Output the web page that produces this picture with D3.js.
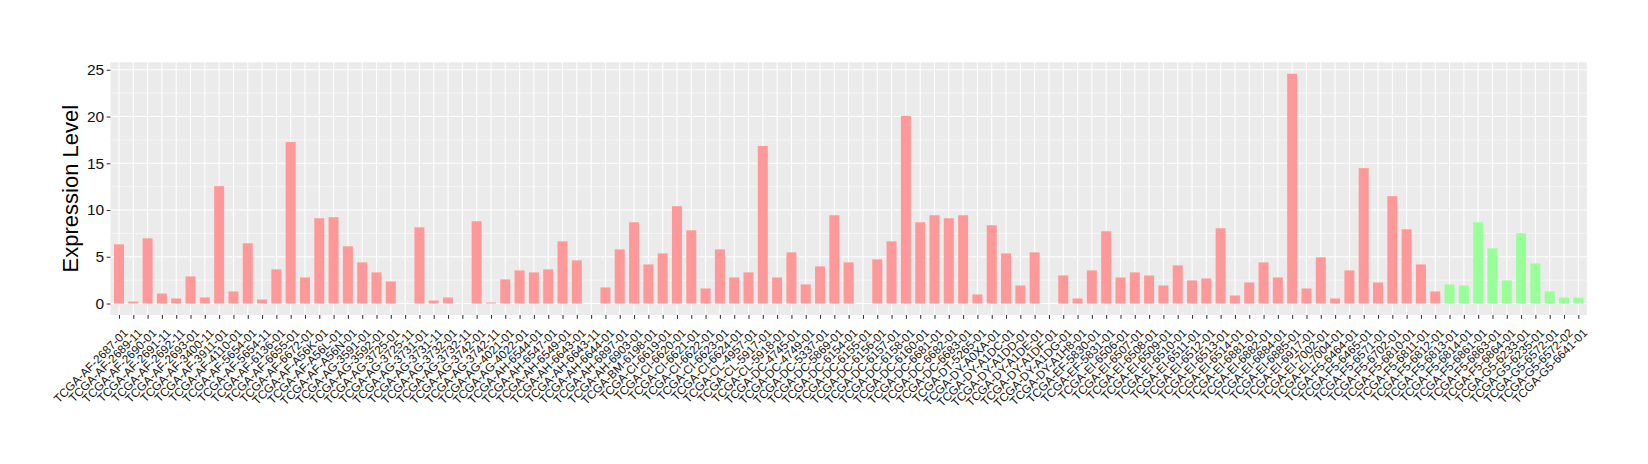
<!DOCTYPE html>
<html>
<head>
<meta charset="utf-8">
<script src="https://cdn.jsdelivr.net/npm/d3@7"></script>
<style>
  html, body { margin: 0; padding: 0; background: #ffffff; }
  svg { display: block; }
  text { font-family: "Liberation Sans", Arial, Helvetica, sans-serif; }
</style>
</head>
<body>
<svg id="chart" width="1648" height="464"></svg>
<script>
const samples = [
  "TCGA-AF-2687-01","TCGA-AF-2689-11","TCGA-AF-2690-01","TCGA-AF-2691-11","TCGA-AF-2692-11",
  "TCGA-AF-2693-01","TCGA-AF-3400-11","TCGA-AF-3911-01","TCGA-AF-4110-01","TCGA-AF-5654-01",
  "TCGA-AF-5654-11","TCGA-AF-6136-01","TCGA-AF-6655-01","TCGA-AF-6672-01","TCGA-AF-A56K-01",
  "TCGA-AF-A56L-01","TCGA-AF-A56N-01","TCGA-AG-3591-01","TCGA-AG-3592-01","TCGA-AG-3725-01",
  "TCGA-AG-3725-11","TCGA-AG-3731-01","TCGA-AG-3731-11","TCGA-AG-3732-01","TCGA-AG-3732-11",
  "TCGA-AG-3742-01","TCGA-AG-3742-11","TCGA-AG-4021-01","TCGA-AG-4022-01","TCGA-AH-6544-01",
  "TCGA-AH-6547-01","TCGA-AH-6549-01","TCGA-AH-6643-01","TCGA-AH-6643-11","TCGA-AH-6644-01",
  "TCGA-AH-6897-01","TCGA-AH-6903-01","TCGA-BM-6198-01","TCGA-CI-6619-01","TCGA-CI-6620-01",
  "TCGA-CI-6621-01","TCGA-CI-6622-01","TCGA-CI-6623-01","TCGA-CI-6624-01","TCGA-CL-4957-01",
  "TCGA-CL-5917-01","TCGA-CL-5918-01","TCGA-DC-4745-01","TCGA-DC-4749-01","TCGA-DC-5337-01",
  "TCGA-DC-5869-01","TCGA-DC-6154-01","TCGA-DC-6155-01","TCGA-DC-6156-01","TCGA-DC-6157-01",
  "TCGA-DC-6158-01","TCGA-DC-6160-01","TCGA-DC-6681-01","TCGA-DC-6682-01","TCGA-DC-6683-01",
  "TCGA-DT-5265-01","TCGA-DY-A0XA-01","TCGA-DY-A1DC-01","TCGA-DY-A1DD-01","TCGA-DY-A1DE-01",
  "TCGA-DY-A1DF-01","TCGA-DY-A1DG-01","TCGA-DY-A1H8-01","TCGA-EF-5830-01","TCGA-EF-5831-01",
  "TCGA-EI-6506-01","TCGA-EI-6507-01","TCGA-EI-6508-01","TCGA-EI-6509-01","TCGA-EI-6510-01",
  "TCGA-EI-6511-01","TCGA-EI-6512-01","TCGA-EI-6513-01","TCGA-EI-6514-01","TCGA-EI-6881-01",
  "TCGA-EI-6882-01","TCGA-EI-6884-01","TCGA-EI-6885-01","TCGA-EI-6917-01","TCGA-EI-7002-01",
  "TCGA-EI-7004-01","TCGA-F5-6464-01","TCGA-F5-6465-01","TCGA-F5-6571-01","TCGA-F5-6702-01",
  "TCGA-F5-6810-01","TCGA-F5-6811-01","TCGA-F5-6812-01","TCGA-F5-6813-01","TCGA-F5-6814-01",
  "TCGA-F5-6861-01","TCGA-F5-6863-01","TCGA-F5-6864-01","TCGA-G5-6233-01","TCGA-G5-6235-01",
  "TCGA-G5-6572-01","TCGA-G5-6572-02","TCGA-G5-6641-01"
];

const expression = [
  6.33, 0.21, 6.97, 1.07, 0.54, 2.90, 0.64, 12.55, 1.29, 6.44,
  0.43, 3.65, 17.27, 2.79, 9.12, 9.23, 6.12, 4.40, 3.33, 2.36,
  0.00, 8.15, 0.32, 0.64, 0.00, 8.80, 0.11, 2.58, 3.54, 3.33,
  3.65, 6.65, 4.61, 0.00, 1.72, 5.79, 8.69, 4.18, 5.36, 10.41,
  7.83, 1.61, 5.79, 2.79, 3.33, 16.85, 2.79, 5.47, 2.04, 3.97,
  9.44, 4.40, 0.00, 4.72, 6.65, 20.06, 8.69, 9.44, 9.12, 9.44,
  0.97, 8.37, 5.36, 1.93, 5.47, 0.00, 3.00, 0.54, 3.54, 7.73,
  2.79, 3.33, 3.00, 1.93, 4.08, 2.47, 2.68, 8.05, 0.86, 2.25,
  4.40, 2.79, 24.57, 1.61, 4.94, 0.54, 3.54, 14.48, 2.25, 11.48,
  7.94, 4.18, 1.29, 2.04, 1.93, 8.69, 5.90, 2.47, 7.51, 4.29,
  1.29, 0.64, 0.64
];

const groups = [
  "A","A","A","A","A","A","A","A","A","A",
  "A","A","A","A","A","A","A","A","A","A",
  "A","A","A","A","A","A","A","A","A","A",
  "A","A","A","A","A","A","A","A","A","A",
  "A","A","A","A","A","A","A","A","A","A",
  "A","A","A","A","A","A","A","A","A","A",
  "A","A","A","A","A","A","A","A","A","A",
  "A","A","A","A","A","A","A","A","A","A",
  "A","A","A","A","A","A","A","A","A","A",
  "A","A","A","B","B","B","B","B","B","B",
  "B","B","B"
];

const groupNames = ["A", "B"];
const groupColors = ["#FF9999", "#99FF99"];
const yTicks = [0, 5, 10, 15, 20, 25];
const yMinorTicks = [2.5, 7.5, 12.5, 17.5, 22.5];
const yTitle = "Expression Level";

const data = samples.map((s, i) => ({ sample: s, value: expression[i], group: groups[i] }));

const panel = { left: 110.4, right: 1586.9, top: 62.3, bottom: 315 };

const svg = d3.select("#chart");

const yMax = d3.max(expression);
const pad = yMax * 0.05;
const y = d3.scaleLinear().domain([-pad, yMax + pad]).range([panel.bottom, panel.top]);
const x = d3.scalePoint().domain(samples).range([panel.left, panel.right]).padding(0.6);
const step = x.step();
const barW = step * 0.7;
const color = d3.scaleOrdinal().domain(groupNames).range(groupColors);

// panel background
svg.append("rect")
  .attr("x", panel.left).attr("y", panel.top)
  .attr("width", panel.right - panel.left).attr("height", panel.bottom - panel.top)
  .attr("fill", "#EBEBEB");

const grid = svg.append("g");
grid.selectAll("line.minor").data(yMinorTicks).join("line")
  .attr("x1", panel.left).attr("x2", panel.right)
  .attr("y1", d => y(d)).attr("y2", d => y(d))
  .attr("stroke", "#ffffff").attr("stroke-width", 0.55);
grid.selectAll("line.major").data(yTicks).join("line")
  .attr("x1", panel.left).attr("x2", panel.right)
  .attr("y1", d => y(d)).attr("y2", d => y(d))
  .attr("stroke", "#ffffff").attr("stroke-width", 1.07);
grid.selectAll("line.vx").data(samples).join("line")
  .attr("x1", d => x(d)).attr("x2", d => x(d))
  .attr("y1", panel.top).attr("y2", panel.bottom)
  .attr("stroke", "#ffffff").attr("stroke-width", 1.07);

// bars
svg.append("g").selectAll("rect").data(data).join("rect")
  .attr("x", d => x(d.sample) - barW / 2)
  .attr("width", barW)
  .attr("y", d => y(Math.max(0, d.value)))
  .attr("height", d => Math.abs(y(0) - y(d.value)))
  .attr("fill", d => color(d.group));

// y axis
const yAxis = d3.axisLeft(y).tickValues(yTicks).tickSize(3.7).tickPadding(2.5);
const yg = svg.append("g").attr("transform", `translate(${panel.left},0)`).call(yAxis);
yg.select(".domain").remove();
yg.selectAll(".tick line").attr("stroke", "#333333").attr("stroke-width", 1.07);
yg.selectAll(".tick text")
  .attr("font-family", "Liberation Sans, Arial, Helvetica, sans-serif")
  .attr("font-size", 15.5).attr("fill", "#111111");

// x axis
const xAxis = d3.axisBottom(x).tickSize(3.7).tickPadding(2);
const xg = svg.append("g").attr("transform", `translate(0,${panel.bottom})`).call(xAxis);
xg.select(".domain").remove();
xg.selectAll(".tick line").attr("stroke", "#333333").attr("stroke-width", 1.07);
xg.selectAll(".tick text")
  .attr("font-family", "Liberation Sans, Arial, Helvetica, sans-serif")
  .attr("font-size", 11.8).attr("fill", "#111111")
  .attr("text-anchor", "end")
  .attr("dy", null)
  .attr("y", null)
  .attr("transform", "translate(3,12.5) rotate(-45)")
  .attr("dominant-baseline", "hanging");

// y title
svg.append("text")
  .attr("transform", `translate(78,${(panel.top + panel.bottom) / 2}) rotate(-90)`)
  .attr("text-anchor", "middle")
  .attr("font-size", 22)
  .attr("fill", "#000000")
  .text(yTitle);
</script>
</body>
</html>
